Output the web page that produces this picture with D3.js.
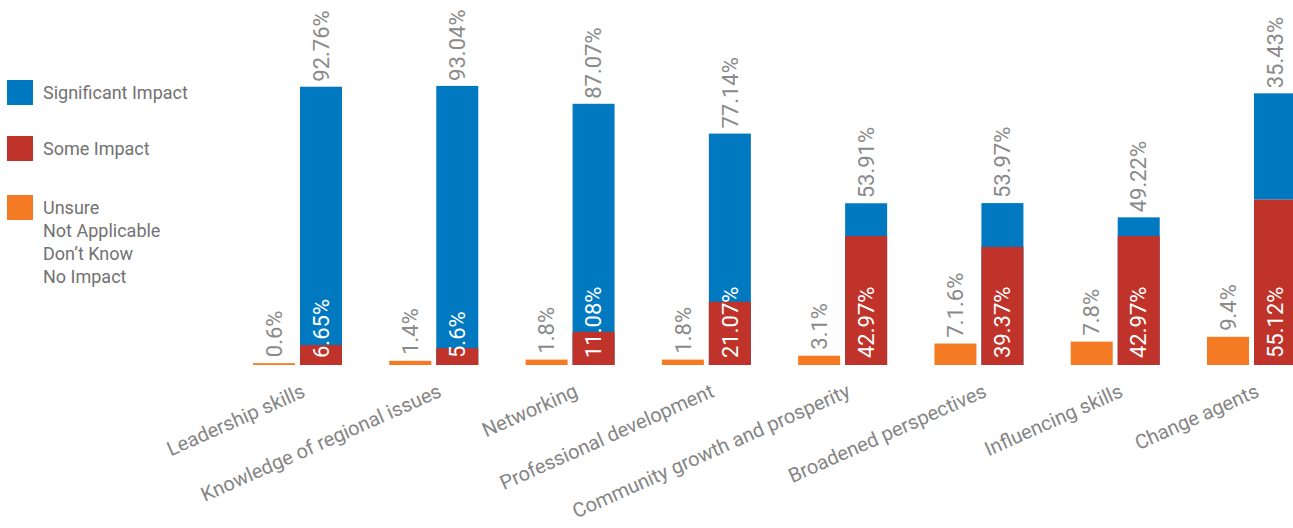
<!DOCTYPE html>
<html>
<head>
<meta charset="utf-8">
<script src="https://cdn.jsdelivr.net/npm/d3@7"></script>
<style>
  html, body { margin: 0; padding: 0; background: #fff; }
  svg { display: block; font-family: Roboto, "Open Sans", sans-serif; }
</style>
</head>
<body>
<svg id="chart" width="1293" height="528"></svg>
<script>
// Survey results: perceived programme impact by area
const categories = [
  "Leadership skills",
  "Knowledge of regional issues",
  "Networking",
  "Professional development",
  "Community growth and prosperity",
  "Broadened perspectives",
  "Influencing skills",
  "Change agents"
];
const significant = [92.76, 93.04, 87.07, 77.14, 53.91, 53.97, 49.22, 35.43];
const some = [6.65, 5.6, 11.08, 21.07, 42.97, 39.37, 42.97, 55.12];
const unsure = [0.6, 1.4, 1.8, 1.8, 3.1, 7.16, 7.8, 9.4];
const unsureLabels = ["0.6%", "1.4%", "1.8%", "1.8%", "3.1%", "7.1.6%", "7.8%", "9.4%"];
// the last area reports its significant share on top of "some impact"
const significantStacked = [false, false, false, false, false, false, false, true];

const legendItems = [
  { key: "significant", lines: ["Significant Impact"] },
  { key: "some", lines: ["Some Impact"] },
  { key: "unsure", lines: ["Unsure", "Not Applicable", "Don\u2019t Know", "No Impact"] }
];

const colors = { significant: "#0079c1", some: "#c0332a", unsure: "#f47a23" };

const svg = d3.select("#chart");

const x = d3.scaleBand().domain(categories).range([253, 1296]).paddingInner(0.347).paddingOuter(0);
const xi = d3.scaleBand().domain(["unsure", "impact"]).range([0, x.bandwidth()]).paddingInner(0.106);
const y = d3.scaleLinear().domain([0, 100]).range([365, 65]);

const rows = categories.map((c, i) => ({
  cat: c,
  significant: significant[i],
  some: some[i],
  unsure: unsure[i],
  unsureLabel: unsureLabels[i],
  base: significantStacked[i] ? some[i] : 0
}));

const groups = svg.append("g").selectAll("g.cat")
  .data(rows).join("g")
  .attr("class", "cat")
  .attr("transform", d => `translate(${x(d.cat)},0)`);

const bw = xi.bandwidth();

// unsure / not applicable bar
groups.append("rect")
  .attr("x", xi("unsure")).attr("width", bw)
  .attr("y", d => y(d.unsure))
  .attr("height", d => y(0) - y(d.unsure))
  .attr("fill", colors.unsure);

// significant impact bar
groups.append("rect")
  .attr("x", xi("impact")).attr("width", bw)
  .attr("y", d => y(d.base + d.significant))
  .attr("height", d => y(d.base) - y(d.base + d.significant))
  .attr("fill", colors.significant);

// some impact bar
groups.append("rect")
  .attr("x", xi("impact")).attr("width", bw)
  .attr("y", d => y(d.some))
  .attr("height", d => y(0) - y(d.some))
  .attr("fill", colors.some);

function vLabel(sel, cx, cy, text, fill) {
  sel.append("text")
    .attr("transform", d => `translate(${cx(d)},${cy(d)}) rotate(-90)`)
    .attr("dy", "0.35em")
    .attr("text-anchor", "start")
    .attr("font-size", 22)
    .attr("fill", fill)
    .text(text);
}

vLabel(groups, () => xi("unsure") + bw / 2, d => y(d.unsure) - 6, d => d.unsureLabel, "#8a8a8a");
vLabel(groups, () => xi("impact") + bw / 2, d => y(d.base + d.significant) - 5, d => d.significant + "%", "#8a8a8a");
vLabel(groups, () => xi("impact") + bw / 2, () => y(0) - 7, d => d.some + "%", "#ffffff");

// category axis
const axis = svg.append("g")
  .attr("transform", `translate(0,${y(0)})`)
  .call(d3.axisBottom(x).tickSize(0).tickPadding(0));
axis.select(".domain").remove();
axis.selectAll(".tick text")
  .attr("x", 0).attr("y", 0).attr("dy", 0)
  .attr("text-anchor", "end")
  .attr("transform", "translate(9,31) rotate(-24)")
  .attr("font-family", "Roboto, sans-serif")
  .attr("font-size", 20)
  .attr("fill", "#858585");

// legend
const legendTop = [80, 136, 195];
const legend = svg.append("g");
legendItems.forEach((item, i) => {
  const g = legend.append("g").attr("transform", `translate(7,${legendTop[i]})`);
  g.append("rect").attr("width", 26).attr("height", 25).attr("fill", colors[item.key]);
  g.append("text")
    .attr("x", 36).attr("y", 19)
    .attr("font-size", 18)
    .attr("fill", "#727272")
    .selectAll("tspan").data(item.lines).join("tspan")
    .attr("x", 36)
    .attr("dy", (d, j) => j === 0 ? 0 : 23)
    .text(d => d);
});
</script>
</body>
</html>
